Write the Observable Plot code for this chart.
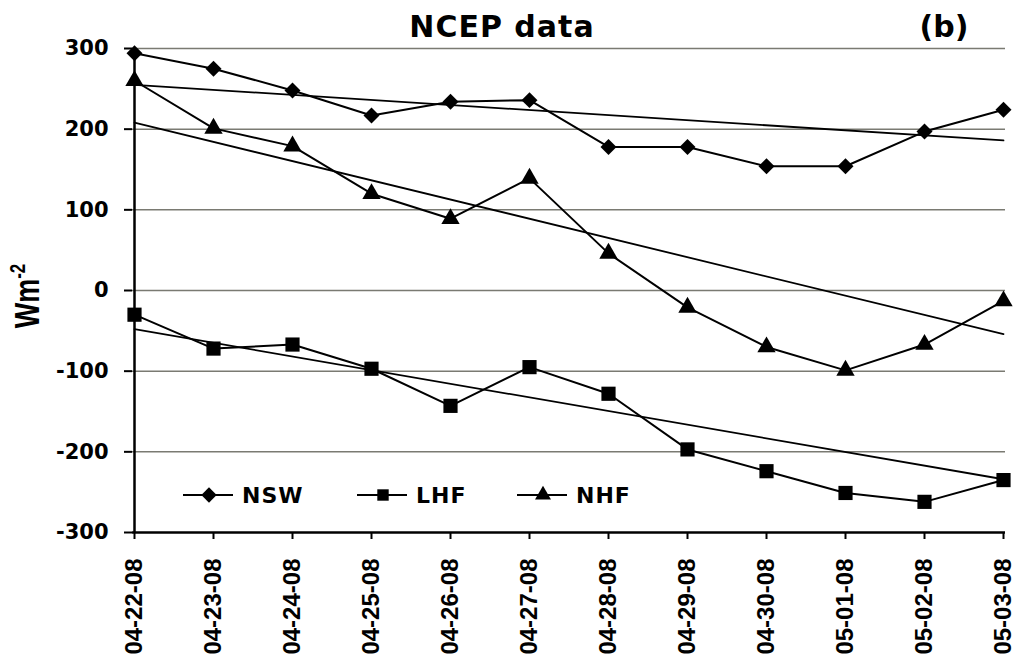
<!DOCTYPE html>
<html>
<head>
<meta charset="utf-8">
<script src="https://cdn.jsdelivr.net/npm/d3@7"></script>
<script src="https://cdn.jsdelivr.net/npm/@observablehq/plot@0.6"></script>
<style>
  html, body { margin: 0; padding: 0; background: #fff; }
  #wrap { position: relative; width: 1026px; height: 656px; overflow: hidden; }
  #wrap svg { position: absolute; left: 0; top: 0; }
</style>
</head>
<body>
<div id="wrap"></div>
<script>
// ---- data ----
const dates = ["04-22-08","04-23-08","04-24-08","04-25-08","04-26-08","04-27-08",
               "04-28-08","04-29-08","04-30-08","05-01-08","05-02-08","05-03-08"];
const nsw = [294, 275, 248, 217, 234, 236, 178, 178, 154, 154, 197, 224];
const lhf = [-30, -72, -67, -97, -143, -95, -128, -197, -224, -251, -262, -235];
const nhf = [260, 201, 179, 120, 89, 139, 46, -21, -70, -99, -67, -13];
// linear trend lines (value at first and last date)
const trendNSW = [255, 186];
const trendLHF = [-48, -234];
const trendNHF = [208, -54];
const yTicks = [-300, -200, -100, 0, 100, 200, 300];
const seriesNames = ["NSW", "LHF", "NHF"];
const titleText = "NCEP data";
const panelText = "(b)";

// ---- build tables ----
const seriesVals = {NSW: nsw, LHF: lhf, NHF: nhf};
const data = seriesNames.flatMap(s => dates.map((d, i) => ({date: d, series: s, value: seriesVals[s][i]})));
const trends = {NSW: trendNSW, LHF: trendLHF, NHF: trendNHF};
const trendData = seriesNames.flatMap(s => [
  {series: s, date: dates[0], value: trends[s][0]},
  {series: s, date: dates[dates.length - 1], value: trends[s][1]}
]);
const sym = {NSW: "diamond2", LHF: "square", NHF: "triangle"};
const rad = {NSW: 7.2, LHF: 8.0, NHF: 6.8};

const chart = Plot.plot({
  width: 1026,
  height: 656,
  marginLeft: 132,
  marginRight: 21,
  marginTop: 48,
  marginBottom: 124,
  x: {type: "point", domain: dates, padding: 0},
  y: {domain: [yTicks[0], yTicks[yTicks.length - 1]]},
  marks: [
    Plot.gridY(yTicks.slice(1), {stroke: "#7a7a72", strokeOpacity: 1, strokeWidth: 1.5}),
    Plot.ruleX([dates[0]], {stroke: "black", strokeWidth: 2.5}),
    Plot.ruleY([yTicks[0]], {stroke: "black", strokeWidth: 2.5}),
    Plot.axisY(yTicks, {tickSize: 8, tickPadding: 16, strokeWidth: 2, tickFormat: d => String(d),
      fontFamily: "DejaVu Sans", fontWeight: "bold", fontSize: 21, label: null}),
    Plot.axisX(dates, {tickSize: 7, tickPadding: 19, tickRotate: -90, strokeWidth: 2,
      fontFamily: "Liberation Sans", fontWeight: "bold", fontSize: 24, label: null}),
    Plot.line(trendData, {x: "date", y: "value", z: "series", stroke: "black", strokeWidth: 1.8}),
    Plot.line(data, {x: "date", y: "value", z: "series", stroke: "black", strokeWidth: 2}),
    ...seriesNames.map(s => Plot.dot(data.filter(d => d.series === s),
      {x: "date", y: "value", symbol: () => sym[s], fill: "black", stroke: "none", r: rad[s]}))
  ],
  symbol: {type: "identity"},
  style: {background: "transparent", color: "black", overflow: "visible"}
});

const wrap = document.getElementById("wrap");
wrap.appendChild(chart);

// ---- overlay: title, panel letter, y title, legend ----
const ov = d3.select(wrap).append("svg")
  .attr("width", 1026).attr("height", 656)
  .style("pointer-events", "none");

ov.append("text").attr("x", 502).attr("y", 37).attr("text-anchor", "middle")
  .attr("font-family", "DejaVu Sans").attr("font-weight", "bold").attr("font-size", 30)
  .attr("letter-spacing", 1)
  .text(titleText);
ov.append("text").attr("x", 944).attr("y", 37).attr("text-anchor", "middle")
  .attr("font-family", "DejaVu Sans").attr("font-weight", "bold").attr("font-size", 30)
  .text(panelText);

const yl = ov.append("text")
  .attr("transform", "translate(39,296) scale(1.3,1) rotate(-90)")
  .attr("text-anchor", "middle")
  .attr("font-family", "Liberation Sans").attr("font-weight", "bold").attr("font-size", 27);
yl.append("tspan").text("Wm");
yl.append("tspan").attr("font-size", 17).attr("dy", -11).text("-2");

const legendPos = {NSW: 183, LHF: 357, NHF: 517};
const legSize = {NSW: 150, LHF: 130, NHF: 110};
seriesNames.forEach(s => {
  const x0 = legendPos[s];
  const g = ov.append("g");
  g.append("line").attr("x1", x0).attr("x2", x0 + 50).attr("y1", 495).attr("y2", 495)
    .attr("stroke", "black").attr("stroke-width", 2);
  const symType = s === "NSW" ? d3.symbolDiamond2 : s === "LHF" ? d3.symbolSquare : d3.symbolTriangle;
  g.append("path").attr("d", d3.symbol(symType, legSize[s])())
    .attr("transform", `translate(${x0 + 26},495)`).attr("fill", "black");
  g.append("text").attr("x", x0 + 59).attr("y", 503)
    .attr("font-family", "DejaVu Sans").attr("font-weight", "bold").attr("font-size", 22)
    .attr("letter-spacing", 1)
    .text(s);
});
</script>
</body>
</html>
